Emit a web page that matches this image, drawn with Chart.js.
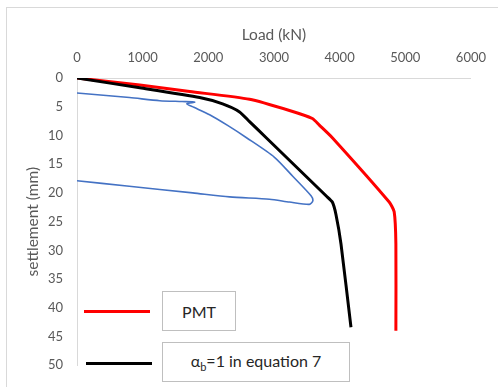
<!DOCTYPE html>
<html><head><meta charset="utf-8">
<script src="https://cdn.jsdelivr.net/npm/chart.js@4.4.0/dist/chart.umd.min.js"></script>
<style>
html,body{margin:0;padding:0;background:#fff;width:498px;height:387px;overflow:hidden;font-family:Lato,"Open Sans",sans-serif;}
#frame{position:absolute;left:6px;top:7px;width:520px;height:400px;border:1px solid #d9d9d9;box-sizing:border-box;}
#wrap{position:absolute;left:0;top:0;width:498px;height:387px;}
.lg-line{position:absolute;height:3px;}
.lg-box{position:absolute;border:1px solid #bfbfbf;background:#fff;color:#262626;font-size:16px;display:flex;align-items:center;justify-content:center;box-sizing:border-box;}
</style></head>
<body>
<div id="frame"></div>
<div id="wrap"><canvas id="c" width="498" height="387"></canvas></div>
<div class="lg-line" style="left:84px;top:310px;width:66px;background:#ff0000;"></div>
<div class="lg-box" style="left:162px;top:291px;width:74px;height:40px;">PMT</div>
<div class="lg-line" style="left:86px;top:362px;width:66px;background:#000;"></div>
<div class="lg-box" style="left:162px;top:342px;width:188px;height:40px;"><span>α<sub style="font-size:11px">b</sub>=1 in equation 7</span></div>
<script>
// Data (load in kN, settlement in mm)
const pmtLoad = [0, 957, 1717, 2628, 3236, 3585, 3691, 3889, 4755, 4831, 4857, 4857];
const pmtSettle = [0, 1.2, 2.35, 3.7, 5.65, 7.05, 8.2, 10.4, 21.6, 23.3, 28.9, 44.0];
const eqLoad = [0, 957, 1868, 2218, 2476, 2628, 2882, 3793, 3889, 3945, 4021, 4173];
const eqSettle = [0, 1.7, 3.4, 4.5, 5.9, 7.6, 10.4, 20.5, 21.6, 23.8, 28.9, 43.4];
const testLoad = [0, 800, 1261, 1600, 1793, 1670, 1780, 2020, 2300, 2582, 3008, 3286, 3565, 3592, 3539, 3236, 2932, 2324, 1762, 760, 0];
const testSettle = [2.6, 3.4, 3.95, 4.1, 4.2, 4.5, 5.1, 6.4, 8.3, 10.4, 13.8, 17.1, 20.5, 21.4, 22.0, 21.6, 21.1, 20.7, 20.0, 18.8, 17.9];
const xTicks = [0, 1000, 2000, 3000, 4000, 5000, 6000];
const yTicks = [0, 5, 10, 15, 20, 25, 30, 35, 40, 45, 50];

const pts = (xs, ys) => xs.map((x, i) => ({x: x, y: ys[i]}));
const txt = '#595959';
const font = {family: 'Lato', size: 13};
const tfont = {family: 'Lato', size: 15.5};

new Chart(document.getElementById('c'), {
  type: 'scatter',
  data: {
    datasets: [
      {label: 'test', data: pts(testLoad, testSettle), showLine: true, borderColor: '#4472C4', borderWidth: 1.6, pointRadius: 0, tension: 0.25, fill: false},
      {label: 'eq7', data: pts(eqLoad, eqSettle), showLine: true, borderColor: '#000000', borderWidth: 3, pointRadius: 0, tension: 0.2, fill: false},
      {label: 'PMT', data: pts(pmtLoad, pmtSettle), showLine: true, borderColor: '#ff0000', borderWidth: 3, pointRadius: 0, tension: 0.2, fill: false}
    ]
  },
  options: {
    responsive: false,
    animation: false,
    layout: {padding: {left: 0, top: 0, right: 26, bottom: 11}},
    plugins: {legend: {display: false}, tooltip: {enabled: false}},
    scales: {
      x: {
        type: 'linear', position: 'top', min: 0, max: 6000,
        afterBuildTicks: s => { s.ticks = xTicks.map(v => ({value: v})); },
        afterFit: s => { s.height = 78; },
        grid: {display: false, drawTicks: false},
        border: {display: true, color: '#d9d9d9', width: 1},
        ticks: {color: txt, font: font, padding: 12, maxRotation: 0, callback: v => String(v)},
        title: {display: true, text: 'Load (kN)', color: txt, font: tfont, padding: {top: 26, bottom: 0}}
      },
      y: {
        type: 'linear', reverse: true, min: 0, max: 50,
        afterBuildTicks: s => { s.ticks = yTicks.map(v => ({value: v})); },
        afterFit: s => { s.width = 77; },
        grid: {display: false, drawTicks: false},
        border: {display: true, color: '#d9d9d9', width: 1},
        ticks: {color: txt, font: font, padding: 14, callback: v => String(v)},
        title: {display: true, text: 'settlement (mm)', color: txt, font: tfont, padding: {top: 24, bottom: 0}}
      }
    }
  }
});
</script>
</body></html>
